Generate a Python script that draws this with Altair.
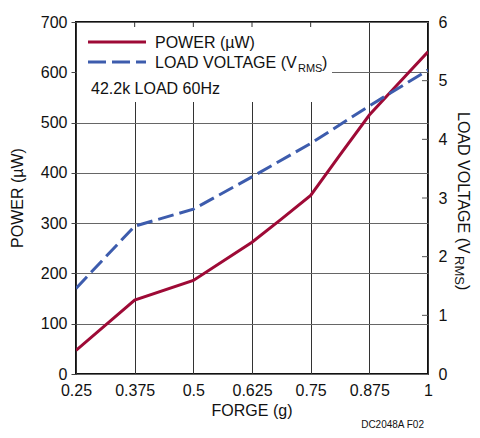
import altair as alt
import pandas as pd

# ---- data ----
power_force = [0.25, 0.375, 0.5, 0.625, 0.6875, 0.75, 0.8125, 0.875, 0.9375, 1.0]
power_uw = [47, 147, 186, 262, 308, 355, 436, 515, 578, 641]

volt_force = [0.25, 0.375, 0.5, 0.625, 0.75, 0.875, 1.0]
volt_rms = [1.46, 2.52, 2.81, 3.36, 3.93, 4.57, 5.18]

x_ticks = [0.25, 0.375, 0.5, 0.625, 0.75, 0.875, 1.0]
p_ticks = [0, 100, 200, 300, 400, 500, 600, 700]
v_ticks = [0, 1, 2, 3, 4, 5, 6]
top_stub_ticks = [0.375, 0.5, 0.625, 0.75]
right_stub_ticks = [1, 2, 3, 4, 5]

RED = "#9e0a36"
BLUE = "#3d5cad"
FONT = "Liberation Sans, Arial, sans-serif"
W, H = 352, 352

pdf = pd.DataFrame({"force": power_force, "power": power_uw})
vdf = pd.DataFrame({"force": volt_force, "volt": volt_rms})

xs = alt.Scale(domain=[0.25, 1.0], nice=False, zero=False)
ps = alt.Scale(domain=[0, 700], nice=False)
vs = alt.Scale(domain=[0, 6], nice=False)

x_axis = alt.Axis(values=x_ticks, labelExpr="datum.value", labelFlush=False,
                  ticks=False, domain=False, grid=True, gridColor="#333",
                  gridWidth=1, labelPadding=8, title=None,
                  labelFontSize=16, labelFont=FONT, labelColor="#111")

p_axis = alt.Axis(values=p_ticks, labelFlush=False, tickSize=5, tickColor="#444",
                  domain=False, grid=True, gridColor="#666", gridWidth=1,
                  labelPadding=4, title=None,
                  labelFontSize=16, labelFont=FONT, labelColor="#111")

v_axis = alt.Axis(values=v_ticks, orient="right", labelFlush=False, ticks=False,
                  domain=False, grid=False, labelPadding=10, title=None,
                  labelFontSize=16, labelFont=FONT, labelColor="#111")


def X(field):
    return alt.X(field, type="quantitative", scale=xs, axis=x_axis)


power_line = alt.Chart(pdf).mark_line(color=RED, strokeWidth=3, clip=True).encode(
    x=X("force"),
    y=alt.Y("power:Q", scale=ps, axis=p_axis),
)

# white legend box covering the gridlines
legend_box = alt.Chart(pd.DataFrame({"a": [0]})).mark_rect(color="white").encode(
    x=alt.value(1), x2=alt.value(256), y=alt.value(1), y2=alt.value(80)
)

# small tick stubs on the top border inside the legend box
top_stubs = alt.Chart(pd.DataFrame({"t": top_stub_ticks})).mark_rule(
    color="#333", strokeWidth=1).encode(
    x=X("t"), y=alt.value(0), y2=alt.value(5)
)

volt_line = alt.Chart(vdf).mark_line(color=BLUE, strokeWidth=3,
                                     strokeDash=[16, 6], clip=True).encode(
    x=X("force"),
    y=alt.Y("volt:Q", scale=vs, axis=v_axis),
)

right_stubs = alt.Chart(pd.DataFrame({"v": right_stub_ticks})).mark_rule(
    color="#555", strokeWidth=1).encode(
    x=alt.value(W - 6), x2=alt.value(W),
    y=alt.Y("v:Q", scale=vs, axis=None),
)

leg = pd.DataFrame({"a": [0]})
leg_red = alt.Chart(leg).mark_rule(color=RED, strokeWidth=3).encode(
    x=alt.value(12), x2=alt.value(70), y=alt.value(20))
leg_blue = alt.Chart(leg).mark_rule(color=BLUE, strokeWidth=3,
                                    strokeDash=[18, 6]).encode(
    x=alt.value(12), x2=alt.value(70), y=alt.value(40))


def txt(s, x, y, size=16, align="left", baseline="alphabetic", angle=0):
    kw = dict(text=s, font=FONT, fontSize=size, align=align, baseline=baseline,
              color="#111")
    if angle:
        kw["angle"] = angle
    return alt.Chart(leg).mark_text(**kw).encode(x=alt.value(x), y=alt.value(y))


texts = [
    # legend
    txt("POWER (µW)", 79, 26),
    txt("LOAD VOLTAGE (V", 79, 46),
    txt("RMS", 222, 50, size=11),
    txt(")", 246, 46),
    txt("42.2k LOAD 60Hz", 15, 72),
    # axis titles
    txt("POWER (µW)", -53, H / 2, align="center", angle=270),
    txt("FORGE (g)", W / 2, 394, align="center"),
    txt("LOAD VOLTAGE (V", 382, 90, angle=90),
    txt("RMS", 379, 234, size=13, angle=90),
    txt(")", 382, 263, angle=90),
    # figure code
    txt("DC2048A F02", 348, 398, size=10, align="right", baseline="top"),
]

chart = alt.layer(
    power_line, legend_box, top_stubs, right_stubs, volt_line,
    leg_red, leg_blue, *texts
).resolve_scale(y="independent").properties(
    width=W, height=H,
    background="white",
    autosize=alt.AutoSizeParams(type="none"),
    padding={"left": 68, "top": 14, "right": 44, "bottom": 56},
).configure_view(stroke="#111", strokeWidth=2)

chart.save("out.html", embed_options={"renderer": "svg", "actions": False})
